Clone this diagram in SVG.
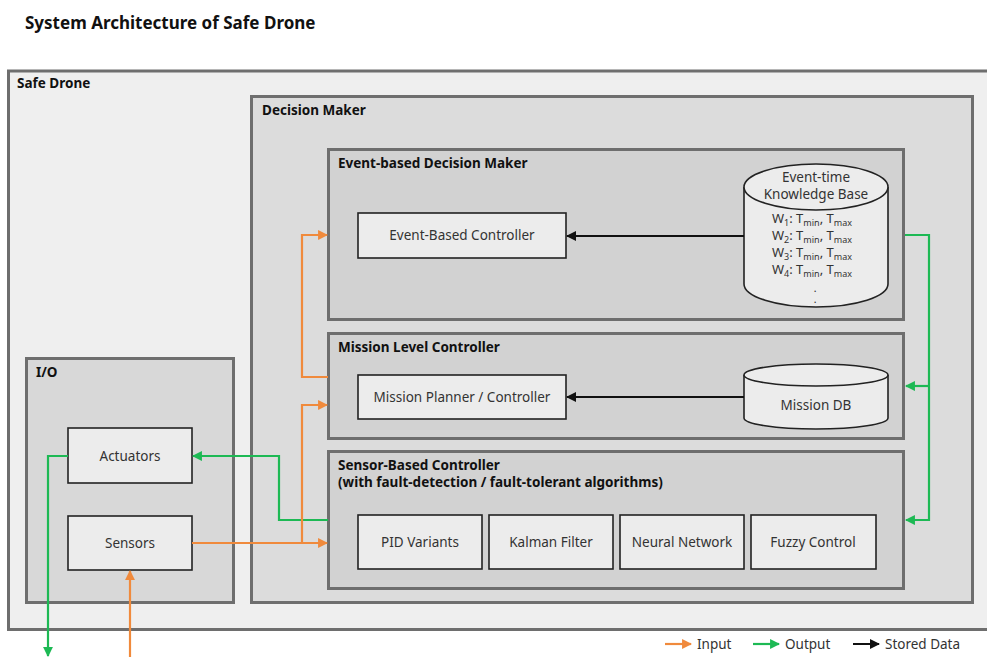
<svg xmlns="http://www.w3.org/2000/svg" width="987" height="657" viewBox="0 0 987 657">
<style>
text{font-family:"Noto Sans","Open Sans","Liberation Sans",sans-serif;fill:#222}
.t{font-size:17px;font-weight:bold;fill:#111}
.h{font-size:13.5px;font-weight:bold;fill:#111}
.n{font-size:13.5px;text-anchor:middle;fill:#333}
.c{stroke:#6e6e6e;stroke-width:3}
.box{fill:#ececec;stroke:#222;stroke-width:1.6}
.or{stroke:#f08a3c;stroke-width:2.2;fill:none}
.gr{stroke:#1db954;stroke-width:2.2;fill:none}
.bk{stroke:#111;stroke-width:2;fill:none}
.kb{font-size:13px;fill:#333}
.sub{font-size:9px}
.dot{font-size:8px;font-weight:bold;text-anchor:middle;fill:#333}
</style>
<defs>
<marker id="ao" viewBox="0 0 10 10" refX="9" refY="5" markerWidth="4.5" markerHeight="4.5" orient="auto-start-reverse"><path d="M0,0L10,5L0,10z" fill="#f08a3c"/></marker>
<marker id="ag" viewBox="0 0 10 10" refX="9" refY="5" markerWidth="4.5" markerHeight="4.5" orient="auto-start-reverse"><path d="M0,0L10,5L0,10z" fill="#1db954"/></marker>
<marker id="ab" viewBox="0 0 10 10" refX="9" refY="5" markerWidth="5" markerHeight="5" orient="auto-start-reverse"><path d="M0,0L10,5L0,10z" fill="#111"/></marker>
</defs>
<text class="t" x="25" y="29">System Architecture of Safe Drone</text>

<g id="safe-drone">
<path d="M990,71H8.5V629.5H990" fill="#efefef" class="c"/>
<text class="h" x="17" y="88">Safe Drone</text>
</g>
<g id="decision-maker">
<rect x="251.5" y="96.5" width="721" height="506" fill="#dcdcdc" class="c"/>
<text class="h" x="262" y="115">Decision Maker</text>
</g>
<g id="event-based-decision-maker">
<rect x="328.5" y="149.5" width="575" height="170" fill="#d2d2d2" class="c"/>
<text class="h" x="338" y="168">Event-based Decision Maker</text>
</g>
<g id="mission-level-controller">
<rect x="328.5" y="333.5" width="575" height="105" fill="#d2d2d2" class="c"/>
<text class="h" x="338" y="352">Mission Level Controller</text>
</g>
<g id="sensor-based-controller">
<rect x="328.5" y="451.5" width="575" height="137" fill="#d2d2d2" class="c"/>
<text class="h" x="338" y="470">Sensor-Based Controller</text>
<text class="h" x="338" y="487">(with fault-detection / fault-tolerant algorithms)</text>
</g>
<g id="io">
<rect x="26.5" y="358.5" width="207" height="244" fill="#d8d8d8" class="c"/>
<text class="h" x="36" y="377">I/O</text>
</g>

<g id="event-based-controller">
<rect class="box" x="358" y="213" width="208" height="45"/>
<text class="n" x="462" y="240">Event-Based Controller</text>
</g>
<g id="mission-planner">
<rect class="box" x="358" y="375" width="208" height="44"/>
<text class="n" x="462" y="402">Mission Planner / Controller</text>
</g>
<g id="pid-variants">
<rect class="box" x="358" y="515" width="124" height="54"/>
<text class="n" x="420" y="547">PID Variants</text>
</g>
<g id="kalman-filter">
<rect class="box" x="489" y="515" width="124" height="54"/>
<text class="n" x="551" y="547">Kalman Filter</text>
</g>
<g id="neural-network">
<rect class="box" x="620" y="515" width="124" height="54"/>
<text class="n" x="682" y="547">Neural Network</text>
</g>
<g id="fuzzy-control">
<rect class="box" x="751" y="515" width="125" height="54"/>
<text class="n" x="813" y="547">Fuzzy Control</text>
</g>
<g id="actuators">
<rect class="box" x="68" y="428" width="124" height="55"/>
<text class="n" x="130" y="461">Actuators</text>
</g>
<g id="sensors">
<rect class="box" x="68" y="516" width="124" height="54"/>
<text class="n" x="130" y="548">Sensors</text>
</g>

<g id="knowledge-base">
<path d="M744,187V284A72,23 0 0 0 888,284V187" fill="#ececec" stroke="#222" stroke-width="1.6"/>
<ellipse cx="816" cy="187" rx="72" ry="23" fill="#ececec" stroke="#222" stroke-width="1.6"/>
<text class="n" x="816" y="182">Event-time</text>
<text class="n" x="816" y="199">Knowledge Base</text>
<text class="kb" x="772" y="223">W<tspan class="sub" dy="3">1</tspan><tspan dy="-3">: T</tspan><tspan class="sub" dy="3">min</tspan><tspan dy="-3">, T</tspan><tspan class="sub" dy="3">max</tspan></text>
<text class="kb" x="772" y="240">W<tspan class="sub" dy="3">2</tspan><tspan dy="-3">: T</tspan><tspan class="sub" dy="3">min</tspan><tspan dy="-3">, T</tspan><tspan class="sub" dy="3">max</tspan></text>
<text class="kb" x="772" y="257">W<tspan class="sub" dy="3">3</tspan><tspan dy="-3">: T</tspan><tspan class="sub" dy="3">min</tspan><tspan dy="-3">, T</tspan><tspan class="sub" dy="3">max</tspan></text>
<text class="kb" x="772" y="274">W<tspan class="sub" dy="3">4</tspan><tspan dy="-3">: T</tspan><tspan class="sub" dy="3">min</tspan><tspan dy="-3">, T</tspan><tspan class="sub" dy="3">max</tspan></text>
<text class="dot" x="815" y="292">.</text>
<text class="dot" x="815" y="303">.</text>
</g>
<g id="mission-db">
<path d="M744,375V418A72,11 0 0 0 888,418V375" fill="#ececec" stroke="#222" stroke-width="1.6"/>
<ellipse cx="816" cy="375" rx="72" ry="11" fill="#ececec" stroke="#222" stroke-width="1.6"/>
<text class="n" x="816" y="410">Mission DB</text>
</g>

<g id="connectors">
<path class="bk" d="M744,236H567" marker-end="url(#ab)"/>
<path class="bk" d="M744,397H567" marker-end="url(#ab)"/>
<path class="gr" d="M905,235H929V520H906" marker-end="url(#ag)"/>
<path class="gr" d="M929,386H906" marker-end="url(#ag)"/>
<path class="gr" d="M328,520H279V456H193" marker-end="url(#ag)"/>
<path class="gr" d="M68,456H48V656" marker-end="url(#ag)"/>
<path class="or" d="M130,657V571" marker-end="url(#ao)"/>
<path class="or" d="M192,543H327" marker-end="url(#ao)"/>
<path class="or" d="M302,543V405H327" marker-end="url(#ao)"/>
<path class="or" d="M328,377H302V235H327" marker-end="url(#ao)"/>
</g>

<g id="legend">
<path class="or" d="M665,644H691" marker-end="url(#ao)"/>
<text x="697" y="649" style="font-size:13.5px;fill:#333">Input</text>
<path class="gr" d="M753,644H779" marker-end="url(#ag)"/>
<text x="785" y="649" style="font-size:13.5px;fill:#333">Output</text>
<path class="bk" d="M853,644H879" marker-end="url(#ab)"/>
<text x="885" y="649" style="font-size:13.5px;fill:#333">Stored Data</text>
</g>
</svg>
